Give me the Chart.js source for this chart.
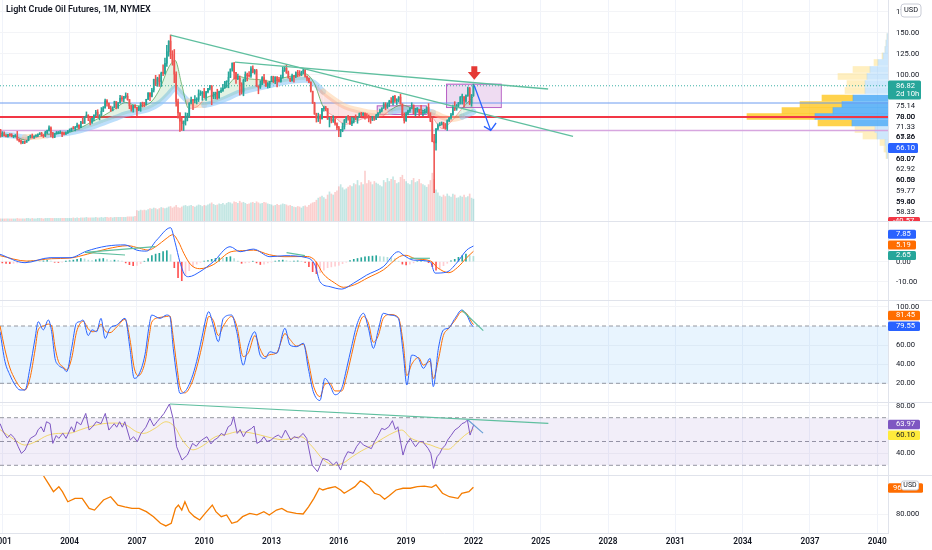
<!DOCTYPE html>
<html><head><meta charset="utf-8">
<script src="https://cdn.jsdelivr.net/npm/chart.js@4.4.1/dist/chart.umd.min.js"></script>
<style>
html,body{margin:0;padding:0;background:#fff;}
#wrap{position:relative;width:932px;height:550px;overflow:hidden;background:#fff;}
canvas{position:absolute;left:0;}
.sep{position:absolute;left:0;width:932px;height:1px;background:#e0e3eb;}
#title{position:absolute;left:6px;top:4px;font:600 9px Roboto, sans-serif;color:#131722;white-space:nowrap;z-index:2;line-height:11px;}
</style></head><body>
<div id="wrap">
<div id="title">Light Crude Oil Futures, 1M, NYMEX</div>
<canvas id="cMain" width="932" height="221" style="top:0;width:932px;height:221px"></canvas>
<div class="sep" style="top:221px"></div>
<canvas id="cMacd" width="932" height="78" style="top:222px;width:932px;height:78px"></canvas>
<div class="sep" style="top:300px"></div>
<canvas id="cStoch" width="932" height="101" style="top:301px;width:932px;height:101px"></canvas>
<div class="sep" style="top:402px"></div>
<canvas id="cRsi" width="932" height="72" style="top:403px;width:932px;height:72px"></canvas>
<div class="sep" style="top:475px"></div>
<canvas id="cDxy" width="932" height="74" style="top:476px;width:932px;height:74px"></canvas>
</div>
<script>
// ---------------- DATA ----------------
const START_YEAR = 2000, START_MONTH = 10; // first bar: Nov 2000
const firstOpen = 33.0;
const closes = [
 34.4, 26.8,
 28.7, 27.4, 26.3, 28.5, 28.4, 26.3, 26.4, 27.2, 23.4, 21.2, 19.4, 19.8,
 19.5, 21.7, 26.3, 27.3, 25.3, 26.9, 27.0, 28.9, 30.5, 27.2, 26.9, 31.2,
 33.5, 36.6, 31.0, 25.8, 29.6, 30.2, 30.5, 31.6, 29.2, 29.1, 30.4, 32.5,
 33.1, 36.2, 35.8, 37.4, 39.9, 37.1, 43.8, 42.1, 49.6, 51.8, 49.1, 43.5,
 48.2, 52.0, 55.4, 49.7, 52.0, 56.5, 60.6, 68.9, 66.2, 59.8, 57.3, 61.0,
 67.9, 61.4, 66.6, 71.9, 71.3, 73.9, 74.4, 70.3, 62.9, 58.7, 63.1, 61.1,
 58.1, 61.8, 65.9, 65.7, 64.0, 70.7, 78.2, 74.0, 81.7, 94.5, 88.7, 96.0,
 91.8, 101.8, 101.6, 113.5, 127.4, 140.0, 124.1, 115.5, 100.6, 67.8, 54.4, 44.6,
 41.7, 44.8, 49.7, 51.1, 66.3, 69.9, 69.5, 70.0, 70.6, 77.0, 77.3, 79.4,
 72.9, 79.7, 83.8, 86.2, 74.0, 75.6, 79.0, 71.9, 80.0, 81.4, 84.1, 91.4,
 92.2, 97.0, 106.7, 113.9, 102.7, 95.4, 95.7, 88.8, 79.2, 93.2, 100.4, 98.8,
 98.5, 107.1, 103.0, 104.9, 86.5, 85.0, 88.1, 96.5, 92.2, 86.2, 88.9, 91.8,
 97.5, 92.1, 97.2, 93.5, 92.0, 96.6, 105.0, 107.7, 102.3, 96.4, 92.7, 98.4,
 97.5, 102.6, 101.6, 99.7, 102.7, 105.4, 98.2, 96.0, 91.2, 80.5, 66.2, 53.3,
 48.2, 49.8, 47.6, 59.6, 60.3, 59.5, 47.1, 49.2, 45.1, 46.6, 41.7, 37.0,
 33.6, 33.8, 38.3, 45.9, 49.1, 48.3, 41.6, 44.7, 48.2, 46.9, 49.4, 53.7,
 52.8, 54.0, 50.6, 49.3, 48.3, 46.0, 50.2, 47.2, 51.7, 54.4, 57.4, 60.4,
 64.7, 61.6, 64.9, 68.6, 67.0, 74.2, 68.8, 69.8, 73.3, 65.3, 50.9, 45.4,
 53.8, 57.2, 60.1, 63.9, 53.5, 58.5, 58.6, 55.1, 54.1, 54.2, 55.2, 61.1,
 51.6, 44.8, 20.5, 18.8, 35.5, 39.3, 40.3, 42.6, 40.2, 35.8, 45.3, 48.5,
 52.2, 61.5, 59.2, 63.6, 66.3, 73.5, 74.0, 68.5, 75.0, 83.6, 66.2, 75.2,
 86.8
];
const highs = [
 37.2, 35.0,
 32.2, 32.1, 28.2, 29.0, 29.5, 29.8, 27.3, 28.8, 32.5, 23.4, 22.6, 21.0,
 21.3, 21.9, 26.6, 28.2, 29.4, 27.2, 28.3, 29.7, 31.0, 31.4, 28.8, 32.7,
 34.0, 39.0, 38.0, 31.0, 30.0, 32.4, 32.4, 33.3, 31.8, 31.8, 32.1, 33.7,
 35.5, 36.5, 38.4, 38.5, 42.3, 40.4, 44.4, 49.4, 50.0, 55.7, 52.3, 46.0,
 48.5, 52.2, 57.6, 58.3, 52.3, 60.9, 62.1, 70.9, 70.4, 66.2, 62.7, 61.8,
 68.5, 67.9, 66.8, 75.4, 74.8, 74.2, 78.4, 77.7, 70.4, 63.6, 63.7, 64.3,
 61.2, 62.1, 66.8, 67.4, 67.0, 70.8, 78.8, 78.8, 83.9, 94.7, 99.3, 97.0,
 100.1, 103.0, 111.8, 119.9, 135.1, 140.4, 147.3, 128.6, 130.0, 103.3, 71.0, 54.8,
 48.6, 44.9, 54.7, 54.2, 66.6, 73.4, 70.0, 75.0, 72.6, 82.0, 81.0, 80.0,
 83.9, 80.3, 83.9, 87.2, 87.2, 79.2, 79.3, 82.7, 80.4, 84.4, 88.6, 92.1,
 92.6, 103.4, 106.9, 113.9, 114.8, 102.6, 100.6, 98.5, 90.5, 95.0, 103.4, 101.8,
 103.7, 109.8, 110.6, 106.3, 106.4, 86.6, 92.9, 97.8, 100.4, 93.5, 90.6, 91.9,
 98.2, 98.2, 97.6, 97.9, 97.0, 99.5, 108.9, 110.2, 112.2, 104.4, 95.7, 100.7,
 98.6, 103.3, 105.2, 104.9, 104.2, 107.7, 106.4, 98.7, 95.9, 91.5, 80.1, 67.2,
 54.2, 54.2, 52.5, 59.9, 62.6, 62.4, 59.7, 49.4, 49.4, 50.9, 48.4, 42.6,
 38.4, 35.0, 42.4, 46.8, 50.2, 51.7, 49.5, 49.4, 48.4, 52.2, 49.8, 54.5,
 55.2, 54.9, 54.6, 53.8, 52.0, 49.0, 50.4, 50.2, 52.9, 54.8, 59.1, 60.5,
 66.7, 66.7, 66.4, 69.6, 72.9, 74.5, 75.3, 71.4, 74.0, 76.9, 64.8, 54.6,
 55.4, 57.8, 60.7, 66.6, 63.8, 59.9, 60.9, 58.8, 63.4, 57.5, 58.7, 61.8,
 65.6, 54.7, 48.7, 29.1, 36.0, 41.6, 43.0, 43.8, 43.4, 41.9, 46.3, 49.3,
 53.9, 63.8, 67.9, 64.6, 67.0, 74.0, 76.9, 73.6, 76.0, 85.4, 84.9, 76.5,
 88.8
];
const lows = [
 32.3, 25.6,
 26.5, 26.8, 25.9, 25.5, 26.8, 26.0, 24.9, 25.6, 21.9, 20.0, 17.5, 17.8,
 17.9, 19.6, 21.2, 24.6, 25.1, 24.2, 25.8, 26.3, 28.6, 26.8, 25.2, 26.3,
 29.7, 32.7, 26.0, 24.6, 25.0, 29.2, 29.6, 30.5, 26.1, 28.4, 28.9, 30.1,
 32.0, 32.5, 35.1, 33.1, 37.1, 35.3, 36.9, 41.7, 42.0, 49.5, 45.3, 40.3,
 42.1, 45.0, 51.0, 49.0, 46.2, 51.4, 56.2, 60.3, 62.6, 59.5, 56.2, 56.9,
 61.0, 59.3, 59.9, 66.0, 68.1, 67.8, 72.0, 69.6, 59.5, 56.5, 55.3, 60.3,
 50.5, 57.1, 56.4, 61.6, 61.9, 64.0, 70.6, 69.0, 73.6, 79.4, 87.0, 86.1,
 86.1, 86.1, 98.7, 100.6, 109.8, 122.0, 119.1, 111.3, 90.5, 62.4, 48.2, 32.4,
 33.6, 33.5, 40.0, 45.0, 48.9, 65.1, 58.3, 66.4, 65.1, 68.0, 75.2, 69.5,
 72.4, 69.5, 78.3, 82.0, 64.2, 71.2, 71.2, 70.8, 72.6, 78.7, 80.2, 83.9,
 84.9, 84.4, 96.5, 104.2, 94.6, 89.6, 94.0, 75.7, 77.1, 74.9, 91.8, 92.5,
 97.0, 96.8, 102.0, 100.7, 86.0, 77.3, 83.6, 88.6, 89.9, 85.9, 84.1, 84.6,
 91.6, 90.6, 89.3, 85.6, 91.5, 91.1, 95.9, 103.8, 101.5, 95.8, 91.8, 92.3,
 91.2, 96.4, 97.4, 98.2, 98.8, 101.3, 97.2, 92.5, 90.4, 79.4, 65.7, 52.7,
 43.6, 44.2, 42.0, 47.2, 56.5, 57.0, 46.7, 37.8, 42.6, 43.1, 39.9, 34.5,
 26.2, 26.1, 32.1, 35.2, 43.0, 45.8, 40.6, 39.2, 42.5, 46.4, 42.2, 49.0,
 50.7, 51.2, 47.1, 48.2, 43.8, 42.1, 45.4, 45.6, 46.6, 49.1, 54.2, 55.8,
 59.8, 58.1, 59.9, 62.0, 66.0, 63.6, 67.0, 64.4, 67.6, 64.8, 49.4, 42.4,
 44.4, 52.0, 55.0, 59.9, 53.4, 50.6, 55.4, 50.5, 52.9, 50.9, 54.0, 55.2,
 50.6, 44.0, 20.1, -40.3, 10.1, 34.4, 39.2, 40.2, 36.1, 34.9, 33.6, 44.2,
 47.2, 51.8, 57.3, 57.6, 61.6, 64.9, 65.0, 61.7, 67.2, 74.0, 64.4, 62.4,
 74.3
];
const volumes = [
 4, 4,
 4,4,4,4,4,4,4,4,5,4,4,4,
 4,5,5,4,5,4,4,5,5,5,4,5,
 5,5,5,5,5,5,5,5,5,5,5,5,
 5,5,6,5,6,5,6,6,6,7,6,6,
 6,6,7,6,6,7,6,7,7,6,7,6,
 7,7,7,7,7,7,7,8,8,8,8,9,
 20,19,21,20,21,20,22,24,23,25,24,22,
 24,26,25,24,25,27,28,25,27,30,26,25,
 27,29,30,28,29,30,28,27,29,31,30,28,
 30,29,31,33,35,32,30,31,33,32,34,31,
 34,36,35,33,37,36,34,38,35,36,34,32,
 33,35,36,34,37,35,33,34,36,35,33,32,
 31,29,30,32,30,31,33,32,31,29,30,28,
 27,26,28,27,25,28,29,27,30,33,35,36,
 40,44,46,48,45,42,50,56,52,50,55,58,
 66,70,64,60,62,65,68,66,72,70,78,68,
 74,70,96,72,78,75,70,76,73,71,68,66,
 78,74,82,76,80,85,78,72,74,84,88,80,
 76,72,70,78,82,74,76,80,72,70,68,65,
 70,78,92,80,60,54,48,46,50,47,52,48,
 46,52,50,44,45,48,46,50,45,47,52,44,
 42
];
// moving-average ribbon
const emaYears = [2000.9,2001.5,2002.0,2002.5,2003.0,2003.5,2004.0,2004.5,2005.0,2005.5,2006.0,2006.5,2007.0,2007.5,2008.0,2008.4,2008.7,2009.0,2009.3,2009.7,2010.0,2010.5,2011.0,2011.5,2012.0,2012.5,2013.0,2013.5,2014.0,2014.5,2014.9,2015.3,2015.8,2016.3,2016.8,2017.3,2017.8,2018.3,2018.8,2019.3,2019.8,2020.2,2020.6,2021.0,2021.5,2022.0];
const emaFast  = [30,27.5,22.5,25,29,30,31.5,37,44,51,59,67,63,65,82,108,117,88,60,62,71,77,86,98,95,94,92,96,99,101,90,62,50,41,45,49,49,58,64,60,57,48,36,44,60,74];
const emaSlow  = [29,27.5,25.5,26,28,29.5,31,34,38,43,48,53,56,59,66,76,84,76,68,64,64,67,72,78,82,85,88,91,93,94,90,80,70,62,58,55,54,56,58,58,57,55,50,47,50,56];
// drawings on the price pane
const levelBlue = 66.3, levelRed = 49.6, levelLilac = 33.7, lastPrice = 86.82;
const trendA = [[2008.5,147],[2026.44,26.5]];
const trendB = [[2011.37,115],[2025.33,83]];
const projLine = [[2022.04,86.9],[2022.77,33.7]];
const projHead = [[2022.47,38.5],[2022.77,33.7],[2023.01,42.5]];
const boxRanges = [[2017.69,2018.8,53.2,63.5],[2018.8,2019.88,53.2,63.5],[2020.78,2023.22,61.5,89.3]];
const signalArrow = [2022.04,110,94];
// visible range volume profile
const profPrices = [145.5,137.7,130,122.3,114.5,106.2,97.9,89.5,81.2,72.3,64.5,57.4,50.2,42.5,34.8,27,19.3,11.5,3.8];
const profUp     = [1,2,3,5,10,18,21,23,23,35,46,55,73,36,13,11,3,2,1];
const profDown   = [0,0,0,1,4,17,29,18,20,31,42,51,68,34,20,14,5,2,1];
const valueArea  = [40,76];
// MACD
const macdLine = [[2000.9,3.7],[2002.01,-0.5],[2003.13,2],[2004.02,2],[2004.76,5.3],[2005.65,7.8],[2006.47,8.4],[2006.99,5.8],[2007.43,5.3],[2007.88,10.8],[2008.5,17],[2008.7,9.7],[2008.92,-0.3],[2009.14,-6.7],[2009.3,-7.5],[2009.81,-5],[2010.41,0],[2011.15,7.5],[2011.6,5],[2012.19,6.3],[2012.93,2.5],[2013.6,3],[2014.57,2],[2014.94,-1.7],[2015.16,-10],[2015.61,-12.5],[2016.13,-13.7],[2016.65,-10.8],[2017.24,-6.7],[2017.98,-2.5],[2018.65,5],[2018.88,3.3],[2019.32,0.8],[2020.07,0],[2020.29,-5.7],[2020.81,-5.2],[2021.25,-0.7],[2021.7,5.8],[2022.0,7.85]];
const macdSignal = [[2000.9,3.0],[2002.1,0.3],[2003.2,1.5],[2004.0,1.8],[2004.8,3.8],[2005.7,6.5],[2006.6,8.0],[2007.1,6.8],[2007.5,5.8],[2007.9,8.0],[2008.3,11.5],[2008.6,13.5],[2008.85,10],[2009.1,4],[2009.4,-1.5],[2009.8,-3.5],[2010.4,-1.5],[2011.2,5],[2011.7,5.5],[2012.2,5.8],[2012.9,3.5],[2013.6,2.5],[2014.6,2.6],[2014.95,0.5],[2015.3,-6],[2015.8,-10.5],[2016.2,-12.8],[2016.7,-11.5],[2017.3,-8],[2018.0,-4],[2018.7,2.5],[2019.0,3.2],[2019.4,1.5],[2020.1,0.3],[2020.4,-3],[2020.9,-5.5],[2021.3,-2.8],[2021.7,2.0],[2022.0,5.19]];
const histStart = 2001, histPerYear = 6;
const macdHist = [
 -0.6,-0.8,-1.0,-0.8,-0.6,-0.4,
 -0.2,0.2,0.4,0.3,0.2,0.4,
 0.6,0.3,-0.3,-0.4,-0.2,0.2,
 0.5,0.8,1.2,1.6,1.4,0.8,
 0.6,1.0,1.4,1.6,1.0,0.5,
 0.8,0.6,0.3,-0.6,-1.5,-2.0,
 -1.8,-1.0,0.2,1.5,3.0,3.8,
 4.2,5.0,5.5,3.5,-3.0,-8.0,
 -9.5,-7.0,-4.5,-2.5,-1.2,-0.3,
 0.3,0.6,1.2,1.6,2.0,1.8,
 2.2,2.5,1.5,0.2,-0.8,-0.6,
 -0.3,0.2,-0.6,-1.4,-1.2,-0.6,
 -0.2,0.3,0.6,0.8,0.5,0.2,
 0.3,0.4,0.2,-0.4,-2.5,-5.0,
 -6.0,-5.5,-4.2,-3.0,-2.6,-2.2,
 -1.8,-1.0,-0.2,0.6,1.2,1.6,
 2.0,2.4,2.6,2.8,3.0,2.6,
 2.4,2.2,2.0,1.4,0.2,-1.2,
 -1.6,-1.2,-0.6,0.4,0.8,0.4,
 -0.5,-2.5,-4.2,-3.6,-2.0,-0.8,
 0.4,1.2,2.2,3.0,3.8,3.0,
 2.65
];
const macdTrends = [[[2004.69,4.7],[2007.81,7.5]],[[2004.69,4.7],[2006.47,3.35]],[[2013.67,4.5],[2014.49,3.0]],[[2019.17,1.7],[2020.06,1.7]]];
// Stoch RSI
const stochK = [[2000.9,74],[2001.12,42.7],[2001.34,28.7],[2001.57,18.2],[2001.79,13],[2002.01,13],[2002.23,35.7],[2002.46,67],[2002.6,84.5],[2002.83,76],[2003.05,86.3],[2003.2,74],[2003.35,46],[2003.5,39],[2003.72,35.7],[2003.87,32.2],[2004.09,56.6],[2004.3,82.8],[2004.45,84.5],[2004.6,86.3],[2004.83,70],[2005.0,76],[2005.2,74],[2005.4,88],[2005.58,67],[2005.8,77.6],[2006.1,81],[2006.47,88],[2006.69,56.6],[2006.88,25.2],[2007.06,28],[2007.36,50],[2007.55,81],[2007.66,91.5],[2008.03,88],[2008.33,91.5],[2008.47,89.8],[2008.62,56.6],[2008.77,28.7],[2008.92,9.5],[2009.14,11.3],[2009.44,25.2],[2009.66,42.7],[2009.89,67],[2010.1,90],[2010.2,95],[2010.4,81],[2010.63,63.6],[2010.85,88],[2011.22,91.5],[2011.45,74],[2011.74,39],[2011.97,60.1],[2012.26,74],[2012.49,49.5],[2012.71,46],[2012.93,53],[2013.23,51.4],[2013.6,77.6],[2013.82,60.1],[2014.12,58.4],[2014.42,61.9],[2014.64,35.7],[2014.86,11.3],[2015.16,2],[2015.38,25.2],[2015.6,18.2],[2015.83,8],[2016.13,14.8],[2016.35,35.7],[2016.57,58.4],[2016.8,81],[2017.1,93.3],[2017.32,77.6],[2017.54,56.6],[2017.76,75.8],[2017.98,93.3],[2018.28,91.5],[2018.65,88],[2018.88,49.5],[2019.03,18.2],[2019.25,49.5],[2019.55,46],[2019.77,35.7],[2020.07,46],[2020.21,16.5],[2020.44,56.6],[2020.66,75.8],[2020.88,77.6],[2021.18,88],[2021.48,96.7],[2021.7,91.5],[2021.92,81],[2022.0,79.55]];
const stochD = [[2000.9,80],[2001.12,55],[2001.34,36],[2001.57,24],[2001.79,16],[2002.01,13],[2002.23,25],[2002.46,55],[2002.6,76],[2002.83,80],[2003.05,82],[2003.2,80],[2003.35,58],[2003.5,43],[2003.72,37],[2003.87,34],[2004.09,46],[2004.3,73],[2004.45,82],[2004.6,85],[2004.83,77],[2005.0,74],[2005.2,75],[2005.4,82],[2005.58,75],[2005.8,73],[2006.1,79],[2006.47,87],[2006.69,66],[2006.88,36],[2007.06,28],[2007.36,42],[2007.55,70],[2007.66,84],[2008.03,89],[2008.33,90],[2008.47,90.5],[2008.62,68],[2008.77,40],[2008.92,16],[2009.14,10],[2009.44,20],[2009.66,36],[2009.89,58],[2010.1,82],[2010.2,90],[2010.4,86],[2010.63,70],[2010.85,80],[2011.22,90],[2011.45,80],[2011.74,48],[2011.97,52],[2012.26,70],[2012.49,56],[2012.71,48],[2012.93,50],[2013.23,52],[2013.6,72],[2013.82,66],[2014.12,59],[2014.42,61],[2014.64,43],[2014.86,18],[2015.16,6],[2015.38,19],[2015.6,20],[2015.83,12],[2016.13,12],[2016.35,28],[2016.57,50],[2016.8,73],[2017.1,90],[2017.32,83],[2017.54,63],[2017.76,70],[2017.98,88],[2018.28,92],[2018.65,89],[2018.88,60],[2019.03,28],[2019.25,40],[2019.55,47],[2019.77,39],[2020.07,43],[2020.21,25],[2020.44,45],[2020.66,70],[2020.88,77],[2021.18,86],[2021.48,95],[2021.7,93],[2021.92,84],[2022.0,81.45]];
const stochBands = [80,20];
const stochTrend = [[2021.48,96.8],[2022.44,75.1]];
// RSI
const rsiLine = [[2000.9,65],[2001.05,58],[2001.22,53],[2001.38,56],[2001.54,53],[2001.7,46],[2001.85,40],[2002.01,42.8],[2002.25,52.6],[2002.49,55.4],[2002.6,60],[2002.73,62.4],[2002.85,58],[2002.97,66.6],[2003.13,65],[2003.25,48.4],[2003.4,55],[2003.52,52.6],[2003.7,57],[2003.84,52.6],[2004.08,62.4],[2004.2,58],[2004.32,66.6],[2004.5,64],[2004.72,73.6],[2004.87,59.6],[2005.05,63],[2005.19,66.6],[2005.4,65],[2005.59,73.6],[2005.75,59.6],[2005.99,65],[2006.1,62],[2006.23,66.6],[2006.35,62],[2006.46,66.6],[2006.7,51.2],[2006.85,54],[2007.02,49.8],[2007.18,56.8],[2007.4,62],[2007.58,69.4],[2007.75,63],[2007.9,66.6],[2008.05,70],[2008.21,73.6],[2008.45,81.5],[2008.61,69.4],[2008.77,45.6],[2009.01,34.4],[2009.25,38.6],[2009.48,48.4],[2009.65,46],[2009.8,49.8],[2009.95,52],[2010.12,54],[2010.3,48],[2010.44,51.2],[2010.6,53],[2010.76,56.8],[2010.9,55],[2011.07,62.4],[2011.2,64],[2011.31,70.8],[2011.47,56.8],[2011.6,60],[2011.75,54],[2011.87,58.2],[2012.11,61],[2012.22,63],[2012.35,48.4],[2012.5,50],[2012.66,54],[2012.8,50],[2012.98,51.2],[2013.15,54],[2013.3,55.4],[2013.45,53],[2013.62,59.6],[2013.86,51.2],[2014.0,54],[2014.2,53],[2014.41,56.8],[2014.57,52.6],[2014.81,30.2],[2015.05,24.6],[2015.29,35.8],[2015.53,34.4],[2015.76,30.2],[2015.9,33],[2016.08,26],[2016.25,36],[2016.4,41.4],[2016.64,40],[2016.8,46],[2016.96,49.8],[2017.1,47],[2017.27,45.6],[2017.45,44],[2017.59,49.8],[2017.75,55],[2017.91,61],[2018.05,60],[2018.23,62.4],[2018.39,67.5],[2018.52,60],[2018.63,62.4],[2018.86,38.6],[2019.0,47],[2019.18,52.6],[2019.3,49],[2019.42,45.6],[2019.6,50],[2019.74,49.8],[2019.98,44.2],[2020.1,40],[2020.22,27.4],[2020.38,37.2],[2020.5,40],[2020.61,44.2],[2020.75,47],[2020.85,51.2],[2021.0,55],[2021.17,59.6],[2021.35,62],[2021.49,65],[2021.62,66],[2021.73,68],[2021.85,55.4],[2022.01,63.97]];
const rsiMA = [[2000.9,60],[2001.5,52],[2002.0,47],[2002.5,50],[2003.0,55],[2003.5,56.8],[2004.0,57],[2004.5,60],[2005.0,63],[2005.5,65],[2006.0,65.5],[2006.5,64],[2007.0,58],[2007.3,56.8],[2007.8,61],[2008.3,66.6],[2008.7,62],[2009.0,52],[2009.5,43],[2009.9,46],[2010.5,54],[2011.0,56],[2011.5,58.2],[2012.0,57.5],[2012.5,55.4],[2013.0,53],[2013.5,51.5],[2014.0,53],[2014.3,54],[2014.8,46],[2015.3,35],[2015.8,30.2],[2016.2,32],[2016.6,37.2],[2017.0,42],[2017.5,47],[2018.0,53],[2018.5,58],[2018.8,59.6],[2019.2,53],[2019.6,49.8],[2020.1,47],[2020.5,44.2],[2020.9,43.5],[2021.2,48],[2021.6,55],[2022.0,60.1]];
const rsiBands = [70,50,30];
const rsiTrend = [[2008.47,81.5],[2025.34,65.3]];
const rsiShort = [[2021.76,68.1],[2022.43,57]];
// Dollar index pane
const dxyLine = [[2002.84,104.2],[2003.05,99.5],[2003.28,94.2],[2003.52,97.4],[2003.68,94.2],[2003.92,87.8],[2004.24,90],[2004.56,90],[2004.87,83.6],[2005.11,82.5],[2005.51,88.9],[2005.83,91],[2006.15,85.7],[2006.46,84.6],[2006.78,83.6],[2007.1,83.6],[2007.42,81.5],[2007.74,78.3],[2008.05,74.1],[2008.29,72.4],[2008.53,74.1],[2008.72,83.6],[2008.85,85.7],[2009.0,82.5],[2009.14,87.8],[2009.33,81.5],[2009.56,78.3],[2009.8,76.2],[2010.04,80.4],[2010.36,85.7],[2010.52,81.5],[2010.76,78.3],[2011.0,79.4],[2011.23,74.1],[2011.47,75.1],[2011.71,78.3],[2012.03,80.4],[2012.35,79.4],[2012.66,81.5],[2012.9,79.4],[2013.22,82.5],[2013.46,83.6],[2013.7,81.5],[2014.1,80.4],[2014.41,80],[2014.65,84.6],[2014.89,90],[2015.13,96.4],[2015.29,95.3],[2015.53,96.4],[2015.84,97.4],[2016.08,95.3],[2016.24,93.2],[2016.48,95.3],[2016.72,97.4],[2016.96,101.2],[2017.12,100],[2017.35,97.4],[2017.59,93.2],[2017.83,92.1],[2018.04,89.4],[2018.23,91.5],[2018.55,95.3],[2018.86,96.4],[2019.18,96.4],[2019.5,97.4],[2019.82,97.8],[2020.14,97],[2020.33,98.5],[2020.62,93.2],[2020.93,91],[2021.31,90],[2021.48,93.2],[2021.8,94.2],[2022.0,97]];
// axis ticks
const tickYears = [2001,2004,2007,2010,2013,2016,2019,2022,2025,2028,2031,2034,2037,2040];
const priceTicks = [175,150,125,100];
const macdTicks = [0,-10];
const stochTicks = [100,60,40,20];
const rsiTicks = [80,40];
const dxyTicks = [80];

// ---------------- STYLE / LAYOUT ----------------
const X_RANGE = [2000.897, 2040.48];
const UP = '#26a69a', DOWN = '#ef5350';
const TREND = '#5fbf9f';
Chart.defaults.font.family = "Roboto, 'DejaVu Sans', sans-serif";

const pts = arr => arr.map(([x,y]) => ({x, y}));
const hline = v => [{x:X_RANGE[0], y:v}, {x:X_RANGE[1], y:v}];

function xAxis(show){
  return {
    type:'linear', min:X_RANGE[0], max:X_RANGE[1], offset:false,
    afterBuildTicks: s => { s.ticks = tickYears.map(v => ({value:v})); },
    afterFit: s => { s.height = show ? 17 : 0; s.paddingLeft = 0; s.paddingRight = 0; },
    grid:{color:'#f0f3fa', drawTicks:false, offset:false},
    border:{display:show, color:'#e0e3eb'},
    ticks:{display:show, autoSkip:false, maxRotation:0, minRotation:0, padding:4, color:'#131722', font:{size:8.3, weight:'600'}, callback:v => String(v)}
  };
}
function yAxis(min, max, tv, dec){
  return {
    type:'linear', position:'right', min, max, offset:false,
    afterBuildTicks: s => { s.ticks = tv.map(v => ({value:v})); },
    afterFit: s => { s.width = 44; s.paddingTop = 0; s.paddingBottom = 0; },
    grid:{color:'#f3f4f7', drawTicks:false, offset:false},
    border:{color:'#e0e3eb'},
    ticks:{padding:8, color:'#131722', font:{size:7.6}, callback:v => v.toFixed(dec)}
  };
}
function baseOptions(scales, plugins){
  return {
    responsive:false, animation:false, events:[],
    layout:{padding:0, autoPadding:false},
    scales,
    elements:{point:{radius:0}},
    plugins:Object.assign({legend:{display:false}, tooltip:{enabled:false}}, plugins)
  };
}
function lineDs(data, color, width, extra){
  return Object.assign({type:'line', data, borderColor:color, borderWidth:width, pointRadius:0, fill:false, tension:0}, extra || {});
}

const badgePlugin = {
  id:'badges',
  afterDraw(chart, args, opts){
    const items = opts.items || [];
    const ctx = chart.ctx;
    ctx.save();
    ctx.textBaseline = 'middle';
    for (const b of items){
      const lines = Array.isArray(b.text) ? b.text : [b.text];
      const x = b.x ?? 888, w = b.w ?? 32, h = b.h ?? 9.5;
      if (b.bg){
        ctx.beginPath();
        ctx.roundRect(x, b.y - h/2, w, h, b.r ?? 1.5);
        ctx.fillStyle = b.bg; ctx.fill();
        if (b.border){ ctx.strokeStyle = b.border; ctx.lineWidth = 1; ctx.stroke(); }
      }
      ctx.fillStyle = b.fg || '#131722';
      ctx.font = (b.weight || '400') + ' ' + (b.size || 7.6) + "px Roboto, 'DejaVu Sans', sans-serif";
      ctx.textAlign = b.center ? 'center' : 'left';
      const tx = b.center ? x + w/2 : (b.tx ?? 896);
      const lh = b.lh ?? 8.5;
      lines.forEach((t, k) => ctx.fillText(t, tx, b.y + (k - (lines.length - 1)/2) * lh));
    }
    ctx.restore();
  }
};
const annoPlugin = {
  id:'anno',
  beforeDatasetsDraw(chart, args, o){
    if (!o.boxes) return;
    const {ctx} = chart, xs = chart.scales.x, ys = chart.scales.y;
    ctx.save();
    for (const [x0, x1, v0, v1] of o.boxes){
      const l = xs.getPixelForValue(x0), r = xs.getPixelForValue(x1);
      const t = ys.getPixelForValue(v1), b = ys.getPixelForValue(v0);
      ctx.fillStyle = o.boxFill; ctx.fillRect(l, t, r - l, b - t);
      ctx.strokeStyle = o.boxStroke; ctx.lineWidth = 1; ctx.strokeRect(l + 0.5, t + 0.5, r - l, b - t);
    }
    ctx.restore();
  },
  afterDatasetsDraw(chart, args, o){
    if (!o.arrow) return;
    const {ctx} = chart, xs = chart.scales.x, ys = chart.scales.y;
    const [ax, vTop, vBot] = o.arrow;
    const cx = xs.getPixelForValue(ax), top = ys.getPixelForValue(vTop), bot = ys.getPixelForValue(vBot);
    const neck = top + (bot - top) * 0.42;
    ctx.save(); ctx.fillStyle = o.arrowColor;
    ctx.beginPath();
    ctx.moveTo(cx - 3, top); ctx.lineTo(cx + 3, top); ctx.lineTo(cx + 3, neck); ctx.lineTo(cx + 6.5, neck);
    ctx.lineTo(cx, bot); ctx.lineTo(cx - 6.5, neck); ctx.lineTo(cx - 3, neck); ctx.closePath(); ctx.fill();
    ctx.restore();
  }
};
Chart.register(badgePlugin, annoPlugin);

// ---------------- MAIN PRICE PANE ----------------
const monthX = closes.map((_, i) => START_YEAR + (START_MONTH + i) / 12);
const opens = closes.map((c, i) => i ? closes[i - 1] : firstOpen);
const isUp = i => closes[i] >= opens[i];
const P_MIN = -74.17, P_MAX = 188.93;
const inVA = p => p >= valueArea[0] && p <= valueArea[1];

new Chart(document.getElementById('cMain'), {
  data:{datasets:[
    lineDs(pts(projLine), '#2962ff', 1.3),
    lineDs(pts(projHead), '#2962ff', 1.3),
    lineDs(pts(trendA), TREND, 1.3),
    lineDs(pts(trendB), TREND, 1.3),
    {type:'bar', data:monthX.map((x, i) => ({x, y:[opens[i], closes[i]]})),
     backgroundColor:c => (c.dataIndex !== undefined && isUp(c.dataIndex)) ? UP : DOWN,
     grouped:false, barThickness:1, maxBarThickness:1.5, minBarLength:1, borderWidth:0},
    {type:'bar', data:monthX.map((x, i) => ({x, y:[lows[i], highs[i]]})),
     backgroundColor:c => (c.dataIndex !== undefined && isUp(c.dataIndex)) ? UP : DOWN,
     grouped:false, barThickness:1, maxBarThickness:0.9, borderWidth:0},
    lineDs(emaYears.map((x, i) => ({x, y:emaFast[i]})), 'rgba(67,160,71,0.7)', 1, {
      cubicInterpolationMode:'monotone',
      fill:{target:7, above:'rgba(76,175,80,0.16)', below:'rgba(239,83,80,0.16)'},
      segment:{borderColor:c => emaFast[c.p0DataIndex] >= emaSlow[c.p0DataIndex] ? 'rgba(67,160,71,0.7)' : 'rgba(239,83,80,0.45)'}
    }),
    lineDs(emaYears.map((x, i) => ({x, y:emaSlow[i]})), 'rgba(144,202,249,0.6)', 6, {
      cubicInterpolationMode:'monotone', borderJoinStyle:'round', borderCapStyle:'round',
      segment:{borderColor:c => emaFast[c.p0DataIndex] >= emaSlow[c.p0DataIndex] ? 'rgba(144,202,249,0.6)' : 'rgba(255,204,153,0.5)'}
    }),
    lineDs(hline(lastPrice), 'rgba(38,166,154,0.9)', 1, {borderDash:[1,2]}),
    lineDs(hline(levelRed), '#f23645', 2),
    lineDs(hline(levelBlue), '#6d9cf0', 1),
    lineDs(hline(levelLilac), '#d7a6df', 1.5),
    {type:'bar', indexAxis:'y', xAxisID:'xProf', yAxisID:'yProf',
     data:profPrices.map((p, i) => ({y:p, x:[0, profUp[i]]})),
     backgroundColor:c => (c.raw && inVA(c.raw.y)) ? 'rgba(66,165,245,0.8)' : 'rgba(144,202,249,0.45)',
     grouped:false, barThickness:6, maxBarThickness:6, borderWidth:0},
    {type:'bar', indexAxis:'y', xAxisID:'xProf', yAxisID:'yProf',
     data:profPrices.map((p, i) => ({y:p, x:[profUp[i], profUp[i] + profDown[i]]})),
     backgroundColor:c => (c.raw && inVA(c.raw.y)) ? 'rgba(255,193,7,0.72)' : 'rgba(255,224,130,0.5)',
     grouped:false, barThickness:6, maxBarThickness:6, borderWidth:0},
    {type:'bar', yAxisID:'yVol', data:monthX.map((x, i) => ({x, y:volumes[i]})),
     backgroundColor:c => (c.dataIndex !== undefined && isUp(c.dataIndex)) ? 'rgba(38,166,154,0.28)' : 'rgba(239,83,80,0.28)',
     grouped:false, barThickness:1, maxBarThickness:1.3, borderWidth:0}
  ]},
  options:baseOptions({
    x:xAxis(false),
    y:yAxis(P_MIN, P_MAX, priceTicks, 2),
    yVol:{type:'linear', display:false, min:0, max:425, offset:false},
    xProf:{type:'linear', display:false, reverse:true, min:0, max:888, offset:false},
    yProf:{type:'linear', display:false, min:P_MIN, max:P_MAX, offset:false, grid:{offset:false}}
  }, {
    anno:{boxes:boxRanges, boxFill:'rgba(206,147,216,0.32)', boxStroke:'rgba(171,71,188,0.85)', arrow:signalArrow, arrowColor:'#e53935'},
    badges:{items:[
      {text:'USD', x:901, y:10.5, w:20, h:13, r:3, bg:'#ffffff', border:'#c9ccd6', center:true, size:7.4},
      {text:['86.82','2d 10h'], y:90, h:19, w:33, bg:'#26a69a', fg:'#ffffff', lh:8.6},
      {text:'75.14', y:105.7},
      {text:'70.00', y:116.7}, {text:'78.00', y:116.7},
      {text:'71.33', y:126.7},
      {text:'65.26', y:137.3}, {text:'67.86', y:137.3},
      {text:'66.10', y:148, w:30, h:10, bg:'#2962ff', fg:'#ffffff'},
      {text:'63.07', y:158.7}, {text:'60.07', y:158.7},
      {text:'62.92', y:169.3},
      {text:'60.53', y:180}, {text:'60.00', y:180},
      {text:'59.77', y:190.7},
      {text:'59.00', y:201.7}, {text:'59.40', y:201.7},
      {text:'58.33', y:212},
      {text:'-40.57', y:221.5, w:32, h:9, bg:'#f23645', fg:'#ffffff', tx:893}
    ]}
  })
});

// ---------------- MACD ----------------
const histX = macdHist.map((_, i) => histStart + i / histPerYear);
const histColor = i => {
  const v = macdHist[i], p = i ? macdHist[i - 1] : 0;
  if (v >= 0) return v >= p ? '#26a69a' : '#b2dfdb';
  return v <= p ? '#ff5252' : '#ffcdd2';
};
new Chart(document.getElementById('cMacd'), {
  data:{datasets:[
    ...macdTrends.map(t => lineDs(pts(t), TREND, 1.2)),
    lineDs(pts(macdLine), '#2962ff', 1, {cubicInterpolationMode:'monotone'}),
    lineDs(pts(macdSignal), '#ff6d00', 1, {cubicInterpolationMode:'monotone'}),
    {type:'bar', data:histX.map((x, i) => ({x, y:macdHist[i]})),
     backgroundColor:c => c.dataIndex !== undefined ? histColor(c.dataIndex) : '#26a69a',
     grouped:false, barThickness:1, maxBarThickness:1.6, borderWidth:0}
  ]},
  options:baseOptions({x:xAxis(false), y:yAxis(-19.15, 19.85, macdTicks, 2)}, {
    badges:{items:[
      {text:'7.85', y:12.2, w:28, h:9, bg:'#2962ff', fg:'#ffffff'},
      {text:'5.19', y:23, w:28, h:9, bg:'#ff6d00', fg:'#ffffff'},
      {text:'2.65', y:33.5, w:28, h:9, bg:'#26a69a', fg:'#ffffff'}
    ]}
  })
});

// ---------------- STOCH RSI ----------------
new Chart(document.getElementById('cStoch'), {
  data:{datasets:[
    lineDs(pts(stochTrend), TREND, 1.2),
    lineDs(pts(stochK), '#2962ff', 1, {cubicInterpolationMode:'monotone'}),
    lineDs(pts(stochD), '#ff6d00', 1, {cubicInterpolationMode:'monotone'}),
    lineDs(hline(stochBands[0]), '#9598a1', 1, {borderDash:[4,3], fill:{target:4}, backgroundColor:'rgba(33,150,243,0.1)'}),
    lineDs(hline(stochBands[1]), '#9598a1', 1, {borderDash:[4,3]})
  ]},
  options:baseOptions({x:xAxis(false), y:yAxis(0.42, 106.18, stochTicks, 2)}, {
    badges:{items:[
      {text:'81.45', y:14.5, w:32, h:9.5, bg:'#ff6d00', fg:'#ffffff'},
      {text:'79.55', y:25.3, w:32, h:9.5, bg:'#2962ff', fg:'#ffffff'}
    ]}
  })
});

// ---------------- RSI ----------------
new Chart(document.getElementById('cRsi'), {
  data:{datasets:[
    lineDs(pts(rsiTrend), TREND, 1.2),
    lineDs(pts(rsiShort), '#6a9fd4', 1.2),
    lineDs(pts(rsiLine), '#7e57c2', 1),
    lineDs(pts(rsiMA), 'rgba(240,205,60,0.75)', 1, {cubicInterpolationMode:'monotone'}),
    lineDs(hline(rsiBands[0]), '#9598a1', 1, {borderDash:[4,3], fill:{target:6}, backgroundColor:'rgba(126,87,194,0.1)'}),
    lineDs(hline(rsiBands[1]), '#9598a1', 1, {borderDash:[4,3]}),
    lineDs(hline(rsiBands[2]), '#9598a1', 1, {borderDash:[4,3]})
  ]},
  options:baseOptions({x:xAxis(false), y:yAxis(21.85, 82.35, rsiTicks, 2)}, {
    badges:{items:[
      {text:'63.97', y:21.5, w:32, h:9.5, bg:'#7e57c2', fg:'#ffffff'},
      {text:'60.10', y:32.3, w:32, h:9.5, bg:'#ffeb3b', fg:'#131722'}
    ]}
  })
});

// ---------------- DXY ----------------
new Chart(document.getElementById('cDxy'), {
  data:{datasets:[
    lineDs(pts(dxyLine), '#f57c00', 1.3)
  ]},
  options:baseOptions({x:xAxis(true), y:yAxis(67.9, 104.2, dxyTicks, 3)}, {
    badges:{items:[
      {text:'96.932', y:12, w:35, h:9.5, bg:'#ff6d00', fg:'#ffffff', tx:893},
      {text:'USD', x:901.5, y:9.5, w:17, h:9, r:2, bg:'#ffffff', border:'#c9ccd6', center:true, size:7}
    ]}
  })
});
</script>
</body></html>
